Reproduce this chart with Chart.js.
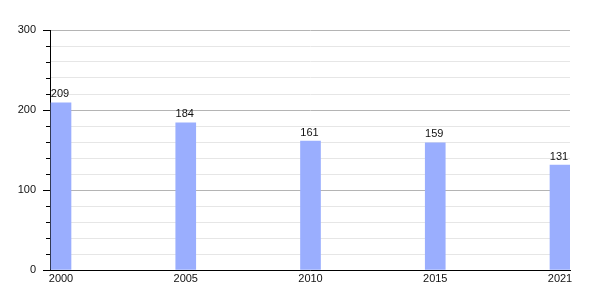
<!DOCTYPE html>
<html>
<head>
<meta charset="utf-8">
<script src="https://cdn.jsdelivr.net/npm/chart.js@4"></script>
<style>
  html, body { margin:0; padding:0; background:#fff; }
  #wrap { width:600px; height:300px; }
</style>
</head>
<body>
<div id="wrap"><canvas id="chart"></canvas></div>
<script>
// data
const years = ['2000', '2005', '2010', '2015', '2021'];
const population = [209, 184, 161, 159, 131];
const yTickLabels = [0, 100, 200, 300];

const BAR_COLOR = '#9aaefe';
const FONT = 'Liberation Sans, Arial, sans-serif';

// value labels above each bar + tick marks on the y axis
const extras = {
  id: 'extras',
  afterDatasetsDraw(chart){
    const ctx = chart.ctx;
    ctx.save();
    ctx.font = '11px ' + FONT;
    ctx.fillStyle = '#111';
    ctx.textAlign = 'center';
    ctx.textBaseline = 'bottom';
    chart.getDatasetMeta(0).data.forEach((bar, i)=>{
      ctx.fillText(String(population[i]), bar.x - 1, bar.y - 3);
    });
    // y ticks: long at labelled values, short otherwise
    const y = chart.scales.y;
    const left = chart.chartArea.left;
    ctx.strokeStyle = '#000';
    ctx.lineWidth = 1;
    y.ticks.forEach(t=>{
      const py = Math.round(y.getPixelForValue(t.value)) + 0.5;
      const len = yTickLabels.includes(t.value) ? 7 : 4;
      ctx.beginPath();
      ctx.moveTo(left - len, py);
      ctx.lineTo(left, py);
      ctx.stroke();
    });
    ctx.restore();
  }
};

new Chart(document.getElementById('chart'), {
  type: 'bar',
  data: {
    datasets: [{
      data: population.map((v, i)=>({x:i, y:v})),
      backgroundColor: BAR_COLOR,
      borderWidth: 0,
      barThickness: 20
    }]
  },
  options: {
    responsive: true,
    maintainAspectRatio: false,
    animation: false,
    events: [],
    layout: { padding: { left:0, right:30, top:30, bottom:0 } },
    plugins: { legend:{display:false}, tooltip:{enabled:false} },
    scales: {
      x: {
        type: 'linear',
        offset: false,
        min: -11/124.75,
        max: 4 + 10/124.75,
        afterBuildTicks: s=>{ s.ticks = years.map((_, i)=>({value:i})); },
        afterFit: s=>{ s.height = 30; },
        grid: { display:false, drawTicks:false },
        border: { display:true, color:'#000', width:1 },
        ticks: {
          autoSkip: false,
          maxRotation: 0,
          padding: 2,
          color: '#111',
          font: { family: FONT, size: 11 },
          callback: v=> years[v] !== undefined ? years[v] : ''
        }
      },
      y: {
        min: 0,
        max: 300,
        afterFit: s=>{ s.width = 50; },
        ticks: {
          stepSize: 20,
          autoSkip: false,
          padding: 14,
          color: '#111',
          font: { family: FONT, size: 11 },
          callback: v=> yTickLabels.includes(v) ? String(v) : ''
        },
        grid: {
          drawTicks: false,
          color: c=> yTickLabels.includes(c.tick.value) ? '#b4b4b4' : '#e6e6e6',
          lineWidth: 1
        },
        border: { display:true, color:'#000', width:1 }
      }
    }
  },
  plugins: [extras]
});
</script>
</body>
</html>
